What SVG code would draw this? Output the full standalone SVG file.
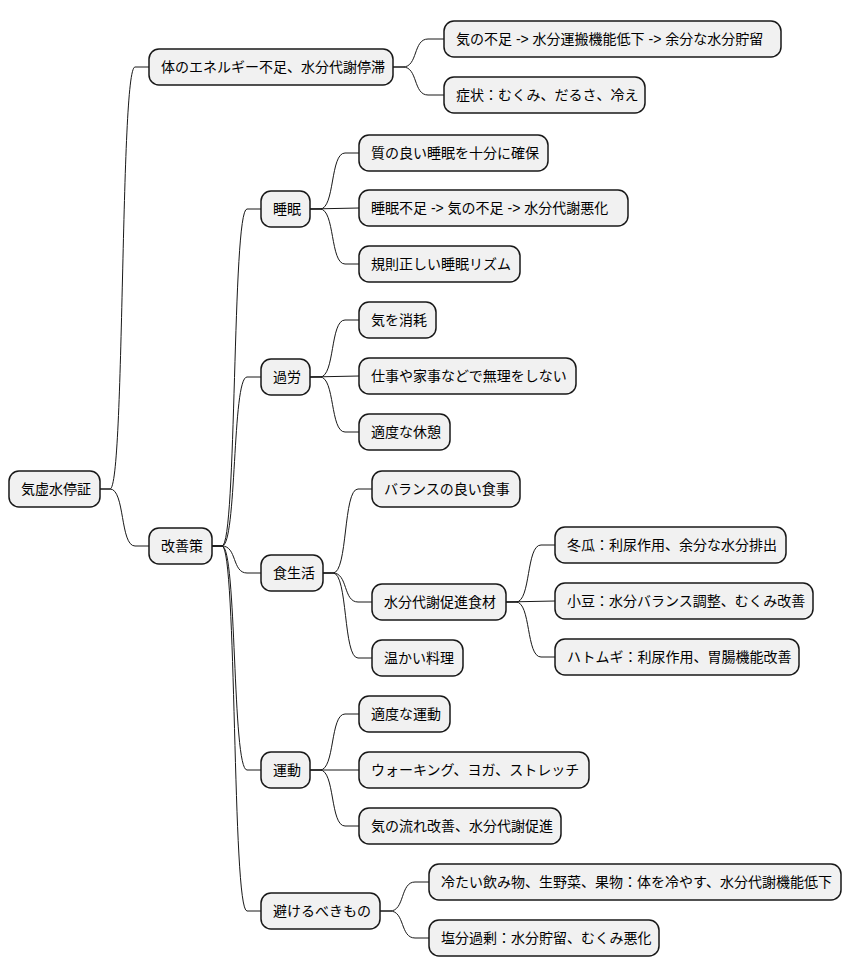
<svg xmlns="http://www.w3.org/2000/svg" width="852" height="978" viewBox="0 0 852 978">
<style>
.n rect{fill:#F1F1F1;stroke:#181818;stroke-width:1.5}
.n text{font-family:"Liberation Sans","Noto Sans CJK JP",sans-serif;font-size:14px;fill:#000;dominant-baseline:central}
.c path{fill:none;stroke:#181818;stroke-width:1}
</style>
<rect width="852" height="978" fill="#fff"/>
<g class="c">
<path d="M100,489 L110,489 C125,489 120,67 135,67 L149,67"/>
<path d="M100,489 L110,489 C125,489 120,546 135,546 L149,546"/>
<path d="M393,67 L403,67 C418,67 413,39 428,39 L444,39"/>
<path d="M393,67 L403,67 C418,67 413,95 428,95 L444,95"/>
<path d="M212,546 L222,546 C237,546 232,209 247,209 L261,209"/>
<path d="M212,546 L222,546 C237,546 232,377 247,377 L261,377"/>
<path d="M212,546 L222,546 C237,546 232,573 247,573 L261,573"/>
<path d="M212,546 L222,546 C237,546 232,770 247,770 L261,770"/>
<path d="M212,546 L222,546 C237,546 232,911 247,911 L261,911"/>
<path d="M310,209 L320,209 C335,209 330,153 345,153 L359,153"/>
<path d="M310,209 L359,208"/>
<path d="M310,209 L320,209 C335,209 330,264 345,264 L359,264"/>
<path d="M310,377 L320,377 C335,377 330,320 345,320 L359,320"/>
<path d="M310,377 L359,376"/>
<path d="M310,377 L320,377 C335,377 330,432 345,432 L359,432"/>
<path d="M323,573 L333,573 C348,573 343,489 358,489 L372,489"/>
<path d="M323,573 L333,573 C348,573 343,602 358,602 L372,602"/>
<path d="M323,573 L333,573 C348,573 343,658 358,658 L372,658"/>
<path d="M506,602 L516,602 C531,602 526,545 541,545 L555,545"/>
<path d="M506,602 L555,601"/>
<path d="M506,602 L516,602 C531,602 526,657 541,657 L555,657"/>
<path d="M310,770 L320,770 C335,770 330,714 345,714 L359,714"/>
<path d="M310,770 L359,770"/>
<path d="M310,770 L320,770 C335,770 330,826 345,826 L359,826"/>
<path d="M380,911 L390,911 C405,911 400,882 415,882 L429,882"/>
<path d="M380,911 L390,911 C405,911 400,938 415,938 L429,938"/>
</g>
<g id="root" class="n"><rect x="9" y="471" width="91" height="36" rx="10"/><text x="21" y="489">気虚水停証</text></g>
<g id="n1" class="n"><rect x="149" y="49" width="244" height="36" rx="10"/><text x="161" y="67">体のエネルギー不足、水分代謝停滞</text></g>
<g id="n1a" class="n"><rect x="444" y="21" width="337" height="36" rx="10"/><text x="456" y="39">気の不足 -&gt; 水分運搬機能低下 -&gt; 余分な水分貯留</text></g>
<g id="n1b" class="n"><rect x="444" y="77" width="201" height="36" rx="10"/><text x="456" y="95">症状：むくみ、だるさ、冷え</text></g>
<g id="n2" class="n"><rect x="149" y="528" width="63" height="36" rx="10"/><text x="161" y="546">改善策</text></g>
<g id="s" class="n"><rect x="261" y="191" width="49" height="36" rx="10"/><text x="273" y="209">睡眠</text></g>
<g id="s1" class="n"><rect x="359" y="135" width="189" height="36" rx="10"/><text x="371" y="153">質の良い睡眠を十分に確保</text></g>
<g id="s2" class="n"><rect x="359" y="190" width="269" height="36" rx="10"/><text x="371" y="208">睡眠不足 -&gt; 気の不足 -&gt; 水分代謝悪化</text></g>
<g id="s3" class="n"><rect x="359" y="246" width="161" height="36" rx="10"/><text x="371" y="264">規則正しい睡眠リズム</text></g>
<g id="k" class="n"><rect x="261" y="359" width="49" height="36" rx="10"/><text x="273" y="377">過労</text></g>
<g id="k1" class="n"><rect x="359" y="302" width="77" height="36" rx="10"/><text x="371" y="320">気を消耗</text></g>
<g id="k2" class="n"><rect x="359" y="358" width="217" height="36" rx="10"/><text x="371" y="376">仕事や家事などで無理をしない</text></g>
<g id="k3" class="n"><rect x="359" y="414" width="91" height="36" rx="10"/><text x="371" y="432">適度な休憩</text></g>
<g id="f" class="n"><rect x="261" y="555" width="62" height="36" rx="10"/><text x="273" y="573">食生活</text></g>
<g id="f1" class="n"><rect x="372" y="471" width="148" height="36" rx="10"/><text x="384" y="489">バランスの良い食事</text></g>
<g id="f2" class="n"><rect x="372" y="584" width="134" height="36" rx="10"/><text x="384" y="602">水分代謝促進食材</text></g>
<g id="f2a" class="n"><rect x="555" y="527" width="231" height="36" rx="10"/><text x="567" y="545">冬瓜：利尿作用、余分な水分排出</text></g>
<g id="f2b" class="n"><rect x="555" y="583" width="258" height="36" rx="10"/><text x="567" y="601">小豆：水分バランス調整、むくみ改善</text></g>
<g id="f2c" class="n"><rect x="555" y="639" width="244" height="36" rx="10"/><text x="567" y="657">ハトムギ：利尿作用、胃腸機能改善</text></g>
<g id="f3" class="n"><rect x="372" y="640" width="91" height="36" rx="10"/><text x="384" y="658">温かい料理</text></g>
<g id="u" class="n"><rect x="261" y="752" width="49" height="36" rx="10"/><text x="273" y="770">運動</text></g>
<g id="u1" class="n"><rect x="359" y="696" width="91" height="36" rx="10"/><text x="371" y="714">適度な運動</text></g>
<g id="u2" class="n"><rect x="359" y="752" width="230" height="36" rx="10"/><text x="371" y="770">ウォーキング、ヨガ、ストレッチ</text></g>
<g id="u3" class="n"><rect x="359" y="808" width="202" height="36" rx="10"/><text x="371" y="826">気の流れ改善、水分代謝促進</text></g>
<g id="a" class="n"><rect x="261" y="893" width="119" height="36" rx="10"/><text x="273" y="911">避けるべきもの</text></g>
<g id="a1" class="n"><rect x="429" y="864" width="412" height="36" rx="10"/><text x="441" y="882">冷たい飲み物、生野菜、果物：体を冷やす、水分代謝機能低下</text></g>
<g id="a2" class="n"><rect x="429" y="920" width="230" height="36" rx="10"/><text x="441" y="938">塩分過剰：水分貯留、むくみ悪化</text></g>
</svg>
